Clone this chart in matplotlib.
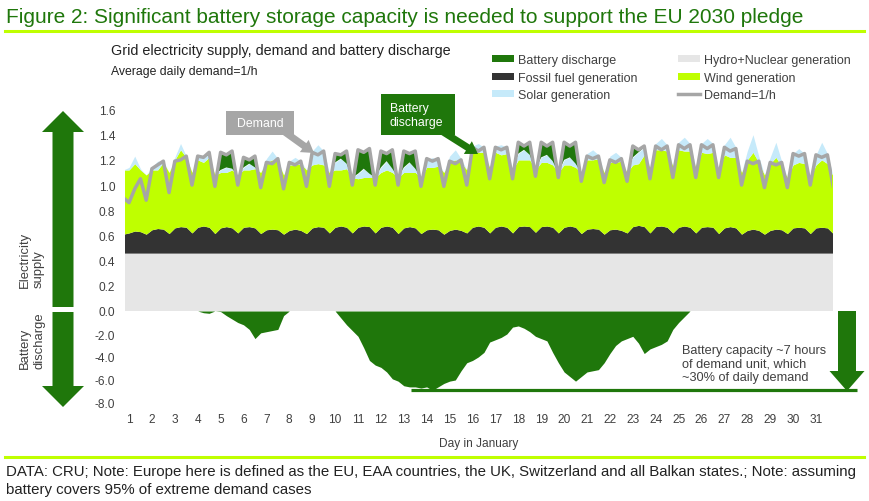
import numpy as np
import matplotlib.pyplot as plt
from matplotlib.patches import FancyArrow, Rectangle, Patch
from matplotlib.lines import Line2D
from matplotlib.transforms import Affine2D

plt.rcParams['font.family'] = ['Liberation Sans', 'DejaVu Sans']

# === data: one sample every 6 hours, 4 per day (night trough, morning, afternoon, evening) ===
# x = day in January; first sample is the night before day 1, last one the night after day 31
days = np.arange(125) / 4 + 0.75

demand = [
    0.90, 0.86, 0.97, 1.05,   # 1
    0.88, 1.13, 1.16, 1.19,   # 2
    0.94, 1.19, 1.20, 1.23,   # 3
    1.00, 1.23, 1.22, 1.26,   # 4
    0.99, 1.26, 1.24, 1.27,   # 5
    1.00, 1.22, 1.20, 1.23,   # 6
    0.98, 1.18, 1.17, 1.21,   # 7
    0.97, 1.18, 1.16, 1.19,   # 8
    0.99, 1.26, 1.24, 1.27,   # 9
    0.99, 1.25, 1.24, 1.27,   # 10
    1.00, 1.28, 1.26, 1.29,   # 11
    1.00, 1.27, 1.25, 1.28,   # 12
    1.00, 1.27, 1.25, 1.27,   # 13
    0.99, 1.21, 1.19, 1.21,   # 14
    0.99, 1.19, 1.17, 1.20,   # 15
    1.00, 1.30, 1.27, 1.30,   # 16
    1.05, 1.30, 1.28, 1.30,   # 17
    1.05, 1.34, 1.31, 1.34,   # 18
    1.07, 1.34, 1.31, 1.34,   # 19
    1.06, 1.34, 1.31, 1.34,   # 20
    1.03, 1.23, 1.21, 1.23,   # 21
    1.02, 1.20, 1.18, 1.21,   # 22
    1.03, 1.31, 1.28, 1.31,   # 23
    1.05, 1.31, 1.28, 1.31,   # 24
    1.06, 1.32, 1.29, 1.32,   # 25
    1.06, 1.32, 1.29, 1.32,   # 26
    1.06, 1.30, 1.27, 1.29,   # 27
    1.00, 1.19, 1.17, 1.19,   # 28
    0.98, 1.18, 1.16, 1.18,   # 29
    0.98, 1.25, 1.23, 1.25,   # 30
    1.00, 1.24, 1.22, 1.24,   # 31
    0.99,
]

hydro_nuclear = 0.46

# top edge of the fossil band
fossil_top = [
    0.610, 0.620, 0.635, 0.630,
    0.610, 0.645, 0.655, 0.650,
    0.615, 0.660, 0.670, 0.665,
    0.620, 0.665, 0.675, 0.665,
    0.615, 0.660, 0.670, 0.660,
    0.620, 0.665, 0.670, 0.660,
    0.615, 0.645, 0.650, 0.645,
    0.610, 0.640, 0.650, 0.640,
    0.615, 0.660, 0.670, 0.665,
    0.620, 0.665, 0.675, 0.665,
    0.620, 0.665, 0.675, 0.670,
    0.620, 0.665, 0.675, 0.665,
    0.615, 0.660, 0.670, 0.660,
    0.615, 0.645, 0.650, 0.645,
    0.610, 0.640, 0.650, 0.640,
    0.620, 0.665, 0.675, 0.665,
    0.620, 0.665, 0.675, 0.665,
    0.620, 0.670, 0.675, 0.670,
    0.625, 0.670, 0.675, 0.665,
    0.620, 0.665, 0.675, 0.665,
    0.615, 0.650, 0.655, 0.650,
    0.610, 0.645, 0.650, 0.640,
    0.620, 0.670, 0.680, 0.670,
    0.620, 0.670, 0.675, 0.665,
    0.620, 0.665, 0.675, 0.665,
    0.620, 0.665, 0.670, 0.665,
    0.615, 0.660, 0.670, 0.660,
    0.610, 0.640, 0.650, 0.640,
    0.610, 0.640, 0.650, 0.645,
    0.615, 0.660, 0.665, 0.660,
    0.615, 0.660, 0.665, 0.660,
    0.615,
]

# top edge of the wind band
wind_top = [
    1.12, 1.12, 1.17, 1.12,
    1.08, 1.12, 1.12, 1.18,
    1.10, 1.20, 1.28, 1.22,
    1.10, 1.20, 1.18, 1.22,
    1.08, 1.10, 1.10, 1.12,
    1.08, 1.12, 1.12, 1.13,
    1.10, 1.18, 1.20, 1.19,
    1.08, 1.16, 1.16, 1.17,
    1.12, 1.16, 1.17, 1.16,
    1.10, 1.12, 1.12, 1.13,
    1.06, 1.05, 1.06, 1.06,
    1.06, 1.10, 1.12, 1.10,
    1.06, 1.10, 1.10, 1.10,
    1.06, 1.14, 1.14, 1.15,
    1.10, 1.18, 1.20, 1.18,
    1.12, 1.27, 1.26, 1.26,
    1.14, 1.26, 1.24, 1.25,
    1.12, 1.20, 1.20, 1.20,
    1.12, 1.18, 1.18, 1.16,
    1.10, 1.16, 1.16, 1.14,
    1.10, 1.20, 1.20, 1.21,
    1.10, 1.18, 1.18, 1.19,
    1.10, 1.16, 1.17, 1.24,
    1.14, 1.28, 1.28, 1.27,
    1.15, 1.28, 1.27, 1.27,
    1.14, 1.26, 1.25, 1.26,
    1.12, 1.24, 1.22, 1.22,
    1.10, 1.20, 1.26, 1.18,
    1.08, 1.17, 1.22, 1.15,
    1.06, 1.16, 1.18, 1.17,
    1.06, 1.16, 1.20, 1.17,
    1.07,
]

# solar generation, stacked on the wind band
solar = [
    0, 0.02, 0.06, 0.01,
    0, 0.02, 0.07, 0.01,
    0, 0.02, 0.05, 0.01,
    0, 0.02, 0.06, 0.01,
    0, 0.02, 0.04, 0.01,
    0, 0.02, 0.05, 0.01,
    0, 0.03, 0.07, 0.02,
    0, 0.03, 0.06, 0.02,
    0, 0.11, 0.15, 0.11,
    0, 0.06, 0.09, 0.04,
    0, 0.04, 0.07, 0.03,
    0, 0.04, 0.07, 0.03,
    0, 0.04, 0.08, 0.03,
    0, 0.05, 0.08, 0.03,
    0, 0.05, 0.08, 0.03,
    0, 0.04, 0.07, 0.04,
    0, 0.05, 0.08, 0.05,
    0, 0.05, 0.08, 0.04,
    0, 0.04, 0.06, 0.03,
    0, 0.04, 0.06, 0.03,
    0, 0.05, 0.08, 0.03,
    0, 0.05, 0.08, 0.03,
    0, 0.06, 0.09, 0.06,
    0, 0.05, 0.09, 0.05,
    0, 0.06, 0.11, 0.06,
    0, 0.07, 0.12, 0.07,
    0, 0.08, 0.16, 0.08,
    0, 0.07, 0.14, 0.05,
    0, 0.05, 0.12, 0.04,
    0, 0.09, 0.11, 0.08,
    0, 0.08, 0.14, 0.08,
    0,
]

# cumulative battery discharge (hours of average demand)
battery_cum = [
    0, 0, 0, 0,
    0, 0, 0, 0,
    0, 0, 0, 0,
    0, 0, -0.15, -0.2,
    0, -0.05, -0.4, -0.7,
    -1.0, -1.2, -1.6, -2.4,
    -1.9, -1.8, -1.7, -1.6,
    -0.4, 0, 0, 0,
    0, 0, 0, 0,
    0, 0, -0.6, -1.2,
    -1.7, -2.2, -3.2, -4.3,
    -4.7, -4.9, -5.3, -5.9,
    -6.1, -6.5, -6.6, -6.6,
    -6.7, -6.6, -6.9, -6.6,
    -6.3, -6.1, -6.0, -5.2,
    -4.5, -4.3, -4.0, -3.6,
    -2.7, -2.5, -2.3, -2.0,
    -1.4, -1.3, -1.5, -1.8,
    -2.2, -2.4, -2.6, -3.6,
    -4.5, -5.3, -5.7, -6.1,
    -5.7, -5.3, -5.2, -5.1,
    -4.5, -3.7, -3.0, -2.6,
    -2.4, -2.2, -2.8, -3.7,
    -3.3, -3.1, -2.9, -2.6,
    -1.6, -1.0, -0.5, 0,
    0, 0, 0, 0,
    0, 0, 0, 0,
    0, 0, 0, 0,
    0, 0, 0, 0,
    0, 0, 0, 0,
    0, 0, 0, 0,
    0,
]

day_ticks = list(range(1, 32))

# === colours ===
GREEN = '#1f770b'
LIME = '#bfff00'
BLUE = '#c6eafa'
DARK = '#333333'
LIGHT = '#e6e6e6'
DEM = '#a6a6a6'
TXT = '#404040'

demand = np.array(demand)
wind_top = np.array(wind_top)
supply = wind_top + np.array(solar)
battery_cum = np.array(battery_cum)

W, H = 869, 502
fig = plt.figure(figsize=(W / 100, H / 100), dpi=100)
# pixel coords, origin top-left
PX = Affine2D().scale(1 / W, -1 / H).translate(0, 1) + fig.transFigure

x0, x1 = 0.825, 31.70
ax = fig.add_axes([125 / W, (H - 312) / H, 707 / W, 201.5 / H])
axb = fig.add_axes([125 / W, (H - 404) / H, 707 / W, 92 / H])

# --- supply / demand panel ---
ax.fill_between(days, 0, hydro_nuclear, color=LIGHT, lw=0)
ax.fill_between(days, hydro_nuclear, fossil_top, color=DARK, lw=0)
ax.fill_between(days, fossil_top, wind_top, color=LIME, lw=0)
ax.fill_between(days, wind_top, supply, color=BLUE, lw=0)
ax.fill_between(days, supply, demand, where=demand > supply, interpolate=True, color=GREEN, lw=0)
ax.plot(days, demand, color=DEM, lw=2.5, solid_joinstyle='round')
ax.set_xlim(x0, x1)
ax.set_ylim(0, 1.6)
ax.set_yticks(np.arange(0, 1.61, 0.2))
ax.set_yticklabels([f"{v:.1f}" for v in np.arange(0, 1.61, 0.2)])
ax.set_xticks([])

# --- battery panel ---
axb.fill_between(days, battery_cum, 0, color=GREEN, lw=0)
axb.set_xlim(x0, x1)
axb.set_ylim(-8, 0)
axb.set_yticks([-8, -6, -4, -2])
axb.set_yticklabels(["-8.0", "-6.0", "-4.0", "-2.0"])
axb.set_xticks(day_ticks)
axb.set_xticklabels([str(d) for d in day_ticks])
axb.set_xlabel("Day in January", fontsize=8.6, color=TXT, labelpad=8.5)

cap = battery_cum.min()
axb.plot([13.3, 32.8], [cap, cap], color=GREEN, lw=2.3, clip_on=False, solid_capstyle='butt')

for a in (ax, axb):
    for s in a.spines.values():
        s.set_visible(False)
    a.tick_params(length=0, labelsize=8.6, labelcolor=TXT)
    a.tick_params(axis='y', pad=7)
    a.tick_params(axis='x', pad=7.5)

# --- header / footer ---
fig.text(6, 23.3, "Figure 2: Significant battery storage capacity is needed to support the EU 2030 pledge",
         transform=PX, fontsize=15, color=GREEN, va='baseline', ha='left')
fig.add_artist(Line2D([5, 864], [32, 32], transform=PX, color=LIME, lw=2.2))
fig.add_artist(Line2D([5, 864], [458, 458], transform=PX, color=LIME, lw=2.2))
fig.text(6, 472, "DATA: CRU; Note: Europe here is defined as the EU, EAA countries, the UK, Switzerland and all Balkan states.; Note: assuming",
         transform=PX, fontsize=10.8, color='#222222', va='center', ha='left')
fig.text(6, 490, "battery covers 95% of extreme demand cases",
         transform=PX, fontsize=10.8, color='#222222', va='center', ha='left')

fig.text(111, 55, "Grid electricity supply, demand and battery discharge",
         transform=PX, fontsize=10.4, color='#222222', va='baseline', ha='left')
fig.text(111, 75.5, "Average daily demand=1/h",
         transform=PX, fontsize=8.8, color='#222222', va='baseline', ha='left')

# --- legend ---
handles = [
    Patch(facecolor=GREEN, label="Battery discharge"),
    Patch(facecolor=DARK, label="Fossil fuel generation"),
    Patch(facecolor=BLUE, label="Solar generation"),
    Patch(facecolor=LIGHT, label="Hydro+Nuclear generation"),
    Patch(facecolor=LIME, label="Wind generation"),
    Line2D([], [], color=DEM, lw=2.5, label="Demand=1/h"),
]
leg = fig.legend(handles=handles, ncol=2, loc='upper left', bbox_to_anchor=(492 / W, 1 - 55 / H),
                 frameon=False, fontsize=9, handlelength=1.75, handleheight=0.5,
                 handletextpad=0.3, columnspacing=3.3, labelspacing=0.45,
                 borderpad=0, borderaxespad=0)
for t in leg.get_texts():
    t.set_color(TXT)

# --- side arrows ---
fig.add_artist(FancyArrow(63, 308, 0, -196, width=21, head_width=42, head_length=21,
                          length_includes_head=True, color=GREEN, lw=0, transform=PX))
fig.add_artist(FancyArrow(63, 313, 0, 95, width=21, head_width=42, head_length=21,
                          length_includes_head=True, color=GREEN, lw=0, transform=PX))
fig.add_artist(FancyArrow(847, 312, 0, 80, width=18, head_width=35, head_length=20,
                          length_includes_head=True, color=GREEN, lw=0, transform=PX))
fig.text(32, 260, "Electricity\nsupply", transform=PX, rotation=90, fontsize=9.4,
         color=TXT, ha='center', va='center', multialignment='left', linespacing=1.25)
fig.text(32, 341, "Battery\ndischarge", transform=PX, rotation=90, fontsize=9.4,
         color=TXT, ha='center', va='center', multialignment='left', linespacing=1.25)

fig.text(682, 345, "Battery capacity ~7 hours\nof demand unit, which\n~30% of daily demand",
         transform=PX, fontsize=9.2, color=TXT, ha='left', va='top', linespacing=1.15)

# --- callouts ---
fig.add_artist(Rectangle((226, 112), 68, 24, color=DEM, lw=0, transform=PX))
fig.text(260, 124, "Demand", transform=PX, fontsize=8.8, color='white', ha='center', va='center')
fig.add_artist(FancyArrow(282, 131, 32, 23, width=7, head_width=15, head_length=12,
                          length_includes_head=True, color=DEM, lw=0, transform=PX))

fig.add_artist(Rectangle((381, 95), 74, 41, color=GREEN, lw=0, transform=PX))
fig.text(390, 116, "Battery\ndischarge", transform=PX, fontsize=8.8, color='white',
         ha='left', va='center', linespacing=1.15)
fig.add_artist(FancyArrow(440, 131, 38, 24, width=7, head_width=15, head_length=12,
                          length_includes_head=True, color=GREEN, lw=0, transform=PX))

fig.savefig("out.png", dpi=100)
